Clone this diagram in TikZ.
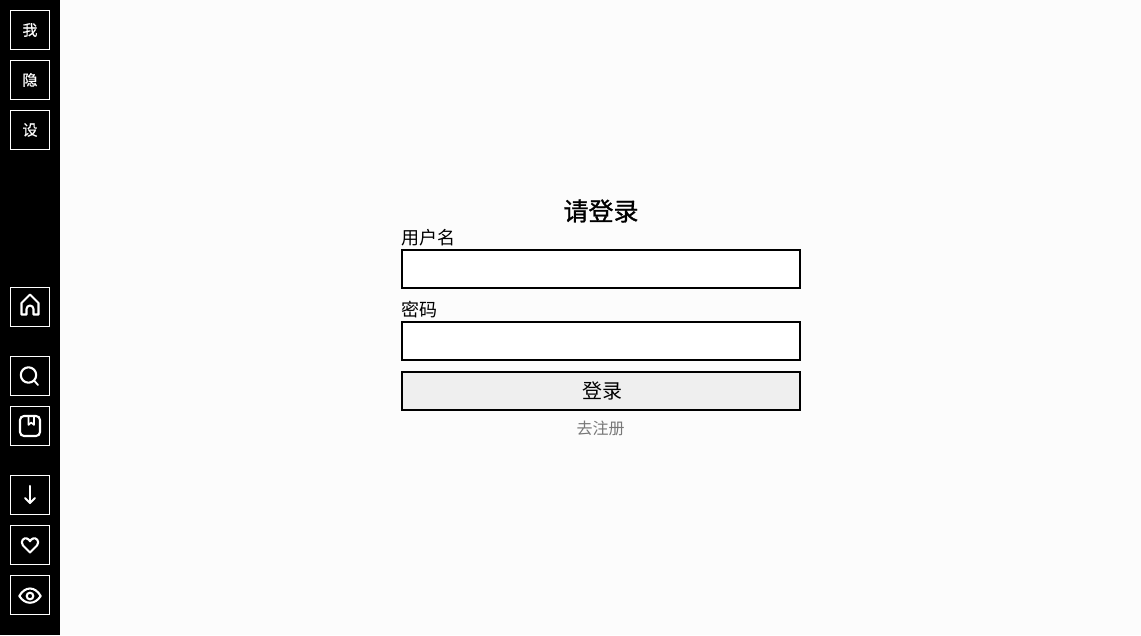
\documentclass[tikz,border=0pt]{standalone}
\usepackage{fontspec}
\setmainfont{Noto Sans CJK SC}
\newfontfamily\sidefont[FakeBold=0.6]{Noto Sans CJK SC}
\newfontfamily\titlefont[FakeBold=1.0]{Noto Sans CJK SC}
\definecolor{pagebg}{HTML}{FCFCFC}
\definecolor{btn}{HTML}{EFEFEF}
\definecolor{linkgray}{HTML}{777777}
\tikzset{
  sidebox/.style={draw=white,line width=1pt,minimum width=39pt,minimum height=39pt,inner sep=0pt,text=white,font=\sidefont\fontsize{15}{15}\selectfont},
  field/.style={draw=black,line width=2pt,fill=white,minimum width=398pt,minimum height=38pt,inner sep=0pt},
  icon/.style={draw=white,line width=2.1pt,line cap=round,line join=round},
  label/.style={inner sep=0pt,anchor=west,text=black,font=\fontsize{18}{18}\selectfont},
}
\begin{document}
\begin{tikzpicture}[x=1pt,y=-1pt]
\useasboundingbox (0,0) rectangle (1141,635);
\fill[pagebg] (0,0) rectangle (1141,635);
\fill[black] (0,0) rectangle (60,635);
\node[sidebox] (me) at (30,30) {\raisebox{0.6pt}{我}};
\node[sidebox] (hide) at (30,80) {\raisebox{0.6pt}{隐}};
\node[sidebox] (set) at (30,130) {\raisebox{0.6pt}{设}};
\node[sidebox] (home) at (30,307) {};
\node[sidebox] (search) at (30,376) {};
\node[sidebox] (book) at (30,426) {};
\node[sidebox] (down) at (30,495) {};
\node[sidebox] (fav) at (30,545) {};
\node[sidebox] (eye) at (30,595) {};
% home
\draw[icon] (21.5,314.5) -- (21.5,303) -- (30,294.5) -- (38.5,303) -- (38.5,314.5) -- (33.5,314.5) -- (33.5,309) arc[start angle=0,end angle=-180,radius=3.5] -- (26.5,314.5) -- cycle;
% search
\draw[icon] (28.5,375) circle[radius=7.7];
\draw[icon,line width=1.8pt] (34.5,381) -- (38,385);
% book
\draw[icon,rounded corners=4pt] (20,416) rectangle (40,436);
\draw[icon,line width=1.6pt] (28.5,416) -- (28.5,425) -- (31.2,422.5) -- (34,425) -- (34,416);
% arrow
\draw[icon] (30,486) -- (30,503);
\draw[icon] (25,498) -- (30,503) -- (35,498);
% heart
\draw[icon] (30,552.5) -- (23,545.5) .. controls (19.5,541) and (24.5,537) .. (27,538.5) .. controls (28.5,539.2) and (29.5,540.2) .. (30,541.2) .. controls (30.5,540.2) and (31.5,539.2) .. (33,538.5) .. controls (35.5,537) and (40.5,541) .. (37,545.5) -- cycle;
% eye
\draw[icon] (19.3,596) .. controls (25,586) and (35,586) .. (40.7,596) .. controls (35,605) and (25,605) .. (19.3,596) -- cycle;
\draw[icon] (30,596) circle[radius=3.3];
% form
\node[inner sep=0pt,text=black,font=\titlefont\fontsize{25}{25}\selectfont] (title) at (601,211) {请登录};
\node[label] (ulabel) at (401,238) {用户名};
\node[field] (user) at (601,269) {};
\node[label] (plabel) at (401,310) {密码};
\node[field] (pass) at (601,341) {};
\node[field,fill=btn,font=\fontsize{20}{20}\selectfont,text=black] (login) at (601,391) {\kern3pt 登录};
\node[inner sep=0pt,text=linkgray,font=\fontsize{16}{16}\selectfont] (reg) at (600.5,428.5) {去注册};
\end{tikzpicture}
\end{document}
